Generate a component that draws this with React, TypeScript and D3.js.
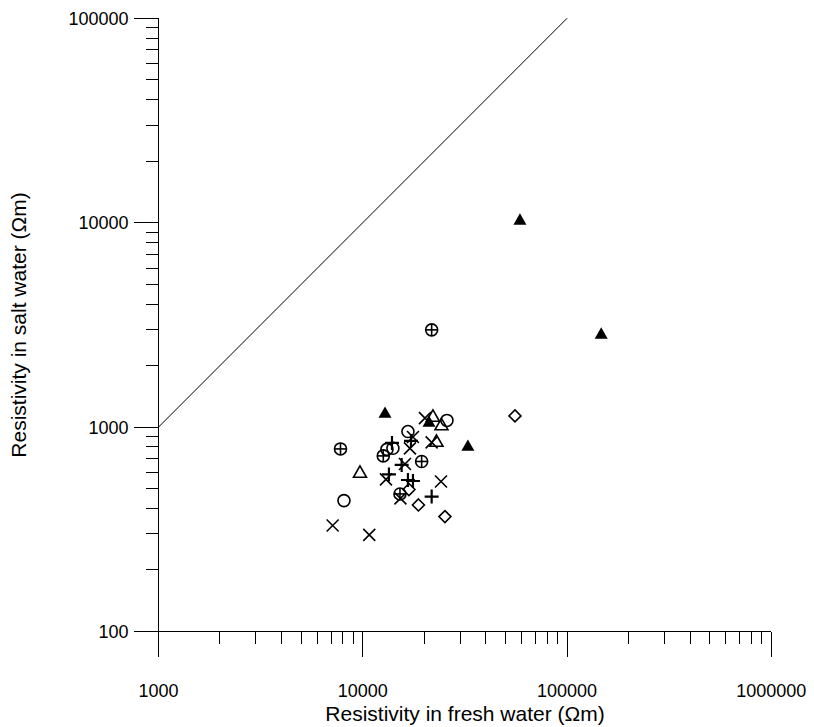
import React from "react";
import * as d3 from "d3";

const xTickLabels = [1000, 10000, 100000, 1000000];
const yTickLabels = [100, 1000, 10000, 100000];

// Series values: [fresh water resistivity, salt water resistivity] (Ωm)
const filledTriangles: [number, number][] = [
  [12850, 1173], [21100, 1060], [32700, 809], [58800, 10330], [147000, 2860],
];
const openTriangles: [number, number][] = [
  [22060, 1128], [24280, 1025], [22950, 851], [9690, 600],
];
const openCircles: [number, number][] = [
  [25830, 1078], [16640, 951], [13130, 778], [14050, 788], [8090, 437],
];
const crossedCircles: [number, number][] = [
  [21740, 2990], [7780, 782], [12600, 723], [19420, 679], [15210, 471],
];
const diamonds: [number, number][] = [
  [55590, 1134], [16830, 495], [18730, 416], [25250, 365],
];
const xMarks: [number, number][] = [
  [20160, 1106], [17610, 895], [17020, 787], [21740, 842], [16090, 660],
  [12990, 555], [24150, 542], [15290, 448], [7120, 330], [10760, 297],
];
const plusMarks: [number, number][] = [
  [13900, 837], [15500, 653], [13430, 587], [16640, 551], [17610, 545],
  [21740, 457], [17220, 856],
];
const lineValues: [number, number][] = [[1000, 1000], [100000, 100000]];

const W = 814, H = 727;
const x0 = 158.5, x1 = 771.3, yTop = 18.3, yBot = 631.5;

export default function App() {
  const x = d3.scaleLog().domain([1000, 1000000]).range([x0, x1]);
  const y = d3.scaleLog().domain([100, 100000]).range([yBot, yTop]);

  const xMinor: number[] = [];
  for (let d = 1000; d < 1000000; d *= 10) for (let k = 2; k <= 9; k++) xMinor.push(d * k);
  const yMinor: number[] = [];
  for (let d = 100; d < 100000; d *= 10) for (let k = 2; k <= 9; k++) yMinor.push(d * k);

  const font = "'Liberation Sans', Arial, sans-serif";
  const s = 6.5;
  const sw = 1.6;
  const triPath = (cx: number, cy: number) =>
    `M${cx},${cy - s}L${cx + s},${cy + s * 0.75}L${cx - s},${cy + s * 0.75}Z`;

  const line = d3.line<[number, number]>().x(d => x(d[0])).y(d => y(d[1]));

  return (
    <svg width={W} height={H} style={{ position: "absolute", left: 0, top: 0, background: "#fff" }}>
      <g stroke="#000" strokeWidth={1} shapeRendering="crispEdges">
        <line x1={x0} x2={x1} y1={yBot} y2={yBot} />
        <line x1={x0} x2={x0} y1={yTop} y2={yBot + 25} />
        {xTickLabels.map(t => (
          <line key={"xt" + t} x1={x(t)} x2={x(t)} y1={yBot} y2={yBot + 25} />
        ))}
        {xMinor.map(t => (
          <line key={"xm" + t} x1={x(t)} x2={x(t)} y1={yBot} y2={yBot + 12.5} />
        ))}
        {yTickLabels.map(t => (
          <line key={"yt" + t} x1={x0 - 25} x2={x0} y1={y(t)} y2={y(t)} />
        ))}
        {yMinor.map(t => (
          <line key={"ym" + t} x1={x0 - 13} x2={x0} y1={y(t)} y2={y(t)} />
        ))}
      </g>
      <path d={line(lineValues) || ""} stroke="#000" strokeWidth={1} fill="none" />
      <g fontFamily={font} fontSize={18} fill="#000">
        {xTickLabels.map(t => (
          <text key={"xl" + t} x={x(t)} y={yBot + 65} textAnchor="middle">{t}</text>
        ))}
        {yTickLabels.map(t => (
          <text key={"yl" + t} x={x0 - 30} y={y(t) + 6.5} textAnchor="end">{t}</text>
        ))}
      </g>
      <text x={465} y={721} textAnchor="middle" fontFamily={font} fontSize={21}>
        Resistivity in fresh water (Ωm)
      </text>
      <text transform={`translate(26,${325}) rotate(-90)`} textAnchor="middle" fontFamily={font} fontSize={21}>
        Resistivity in salt water (Ωm)
      </text>
      <g stroke="#000" strokeWidth={sw} fill="none">
        {openTriangles.map((d, i) => (
          <path key={"ot" + i} d={triPath(x(d[0]), y(d[1]))} />
        ))}
        {openCircles.map((d, i) => (
          <circle key={"oc" + i} cx={x(d[0])} cy={y(d[1])} r={6} />
        ))}
        {crossedCircles.map((d, i) => {
          const cx = x(d[0]), cy = y(d[1]);
          return (
            <g key={"cc" + i}>
              <circle cx={cx} cy={cy} r={6} />
              <line x1={cx - 6} x2={cx + 6} y1={cy} y2={cy} />
              <line x1={cx} x2={cx} y1={cy - 6} y2={cy + 6} />
            </g>
          );
        })}
        {diamonds.map((d, i) => {
          const cx = x(d[0]), cy = y(d[1]);
          return <path key={"di" + i} d={`M${cx},${cy - 6}L${cx + 6},${cy}L${cx},${cy + 6}L${cx - 6},${cy}Z`} />;
        })}
        {xMarks.map((d, i) => {
          const cx = x(d[0]), cy = y(d[1]);
          return <path key={"xm" + i} d={`M${cx - 6},${cy - 6}L${cx + 6},${cy + 6}M${cx - 6},${cy + 6}L${cx + 6},${cy - 6}`} />;
        })}
        {plusMarks.map((d, i) => {
          const cx = x(d[0]), cy = y(d[1]);
          return <path key={"pm" + i} d={`M${cx - 7},${cy}L${cx + 7},${cy}M${cx},${cy - 7}L${cx},${cy + 7}`} strokeWidth={2.2} />;
        })}
      </g>
      <g fill="#000" stroke="none">
        {filledTriangles.map((d, i) => (
          <path key={"ft" + i} d={triPath(x(d[0]), y(d[1]))} />
        ))}
      </g>
    </svg>
  );
}
